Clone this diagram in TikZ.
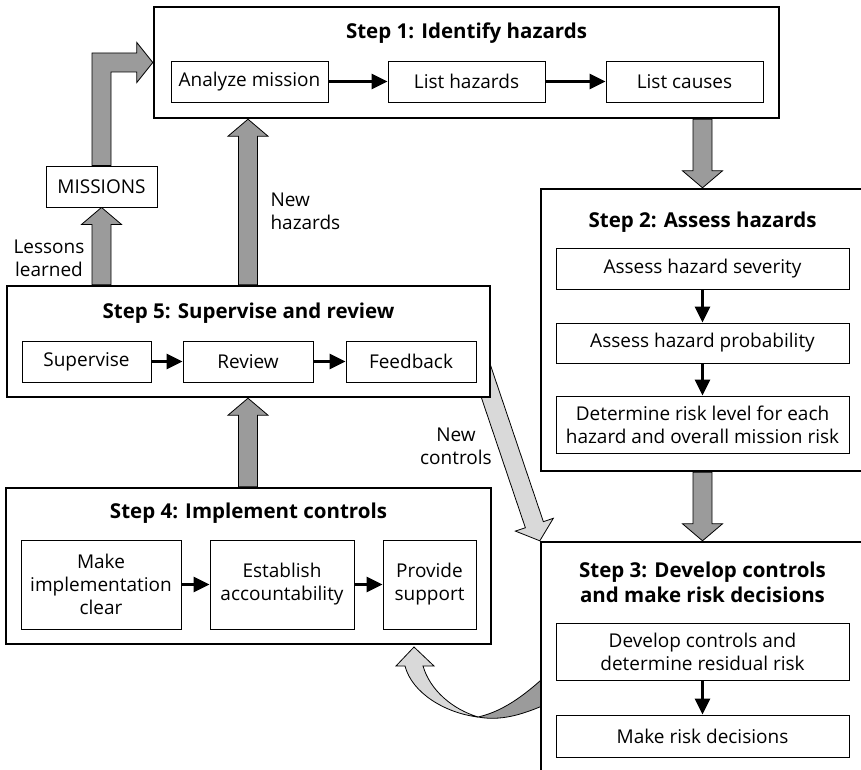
\documentclass[tikz,border=0pt]{standalone}
\usepackage{fontspec}
\setmainfont{Open Sans}
\usetikzlibrary{calc,arrows.meta,backgrounds}
\definecolor{midgray}{HTML}{9B9B9B}
\definecolor{palegray}{HTML}{D9D9D9}

\newcommand{\fatarrow}[3][midgray]{%
	\filldraw[fill=#1,draw=black,line width=0.8pt]
	($(#2)!9.5pt!90:(#3)$) --
	($(#3)!17pt!(#2)!9.5pt!-90:(#2)$) --
	($(#3)!17pt!(#2)!20pt!-90:(#2)$) --
	(#3) --
	($(#3)!17pt!(#2)!20pt!90:(#2)$) --
	($(#3)!17pt!(#2)!9.5pt!90:(#2)$) --
	($(#2)!9.5pt!-90:(#3)$) -- cycle;}

\begin{document}
\begin{tikzpicture}[x=1pt,y=-1pt,
	font=\fontsize{19}{23}\selectfont,
	stepbox/.style={draw,line width=2.4pt,fill=white},
	taskbox/.style={draw,line width=0.9pt,fill=white,align=center,inner sep=0pt},
	steptitle/.style={font=\fontsize{20.5}{25}\selectfont\bfseries,align=center},
	flow/.style={line width=3pt,-{Triangle[length=16pt,width=15pt]}},
	note/.style={align=center}]
	\useasboundingbox (0,0) rectangle (861,770);

	% step 1
	\node[stepbox,minimum width=625,minimum height=111] (s1) at (466.5,62.5) {};
	\node[steptitle] (t1) at (466.5,33) {Step 1: Identify hazards};
	\node[taskbox,minimum width=157,minimum height=41] (am) at (249.5,81.5) {Analyze mission};
	\node[taskbox,minimum width=157,minimum height=41] (lh) at (466.5,81.5) {List hazards};
	\node[taskbox,minimum width=157,minimum height=41] (lc) at (684.5,81.5) {List causes};

	\node[taskbox,minimum width=111,minimum height=41] (missions) at (101.5,186.5) {MISSIONS};

	% step 2
	\node[stepbox,minimum width=359,minimum height=282] (s2) at (720.5,330) {};
	\node[steptitle] (t2) at (702.5,222) {Step 2: Assess hazards};
	\node[taskbox,minimum width=293,minimum height=41] (sev) at (702.5,268.5) {Assess hazard severity};
	\node[taskbox,minimum width=293,minimum height=40] (prob) at (702.5,343) {Assess hazard probability};
	\node[taskbox,minimum width=293,minimum height=57] (det) at (702.5,424.5) {Determine risk level for each\\hazard and overall mission risk};

	% step 3
	\node[stepbox,minimum width=359,minimum height=258] (s3) at (720.5,671) {};
	\node[steptitle] (t3) at (702.5,582.5) {Step 3: Develop controls\\and make risk decisions};
	\node[taskbox,minimum width=293,minimum height=57] (dev) at (702.5,651.5) {Develop controls and\\determine residual risk};
	\node[taskbox,minimum width=293,minimum height=42] (mrd) at (702.5,736) {Make risk decisions};

	% step 4
	\node[stepbox,minimum width=485,minimum height=156] (s4) at (248.5,566) {};
	\node[steptitle] (t4) at (248.5,513) {Step 4: Implement controls};
	\node[taskbox,minimum width=160,minimum height=89] (mic) at (101,584.5) {Make\\implementation\\clear};
	\node[taskbox,minimum width=144,minimum height=89] (ea) at (282,584.5) {Establish\\accountability};
	\node[taskbox,minimum width=93,minimum height=89] (ps) at (429.5,584.5) {Provide\\support};

	% step 5
	\node[stepbox,minimum width=483,minimum height=111] (s5) at (248.5,341.5) {};
	\node[steptitle] (t5) at (248.5,313) {Step 5: Supervise and review};
	\node[taskbox,minimum width=129,minimum height=41] (sup) at (86.5,361.5) {Supervise};
	\node[taskbox,minimum width=130,minimum height=41] (rev) at (248,361.5) {Review};
	\node[taskbox,minimum width=130,minimum height=41] (fb) at (411,361.5) {Feedback};

	\node[note] (lessons) at (49,258) {Lessons\\learned};
	\node[note,align=left,anchor=west] (newhaz) at (267,211) {New\\hazards};
	\node[note] (newctl) at (456,446) {New\\controls};

	\draw[flow] (am) -- (lh);
	\draw[flow] (lh) -- (lc);
	\draw[flow] (sev) -- (prob);
	\draw[flow] (prob) -- (det);
	\draw[flow] (dev) -- (mrd);
	\draw[flow] (mic) -- (ea);
	\draw[flow] (ea) -- (ps);
	\draw[flow] (sup) -- (rev);
	\draw[flow] (rev) -- (fb);

	\coordinate (a1) at (s5.north -| missions);
	\coordinate (a2) at (s5.north -| rev);
	\coordinate (a2t) at (s1.south -| rev);
	\coordinate (a3) at (s4.north -| rev);
	\coordinate (a3t) at (s5.south -| rev);
	\coordinate (a4) at (s1.south -| sev);
	\coordinate (a4t) at (s2.north -| sev);
	\coordinate (a5) at (s2.south -| sev);
	\coordinate (a5t) at (s3.north -| sev);
	\coordinate (nc) at (477,355);

	\begin{pgfonlayer}{background}
		\fatarrow{a1}{missions.south}
		\fatarrow{a2}{a2t}
		\fatarrow{a3}{a3t}
		\fatarrow{a4}{a4t}
		\fatarrow{a5}{a5t}
		\fatarrow[palegray]{nc}{s3.north west}
		\filldraw[fill=midgray,line width=0.8pt] ($(missions.north)+(-9.5,0)$) |- ($(s1.west)+(-16,-9.5)$) -- ++(0,-10.5) -- (s1.west) -- ($(s1.west)+(-16,20)$) -- ++(0,-10.5) -| ($(missions.north)+(9.5,0)$) -- cycle;
		% curved arrow back to step 4
		\filldraw[fill=midgray,line width=0.8pt] (478,717) .. controls (505,722) and (530,712) .. (560,698) -- (560,662) .. controls (530,692) and (505,711) .. (478,717) -- cycle;
		\filldraw[fill=palegray,line width=0.8pt] (478,717) .. controls (445,713) and (412,693) .. (405,666) -- (396,666) -- (414,647) -- (434,666) -- (423,666) .. controls (430,690) and (452,709) .. (478,717) -- cycle;
	\end{pgfonlayer}
\end{tikzpicture}
\end{document}
